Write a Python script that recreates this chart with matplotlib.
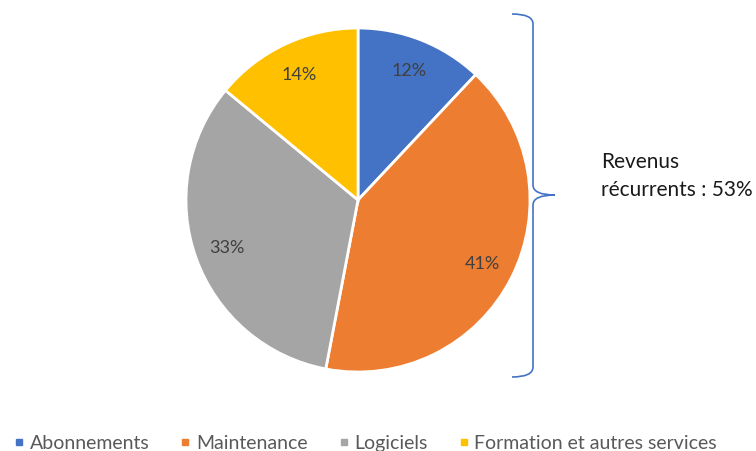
import matplotlib.pyplot as plt
from matplotlib.path import Path
from matplotlib.patches import PathPatch
from matplotlib.lines import Line2D

plt.rcParams['font.family'] = ['Lato', 'DejaVu Sans']

# data
categories = ['Abonnements', 'Maintenance', 'Logiciels', 'Formation et autres services']
shares = [12, 41, 33, 14]
colors = ['#4472C4', '#ED7D31', '#A5A5A5', '#FFC000']
brace_label = 'Revenus\nrécurrents : 53%'

W, H = 756, 452
fig = plt.figure(figsize=(W / 100, H / 100), dpi=100)

# pie centre (358, 200) px, radius 172 px
cx, cy, r = 358, 201, 172
ax = fig.add_axes([(cx - r) / W, (H - cy - r) / H, 2 * r / W, 2 * r / H])
wedges, texts, autotexts = ax.pie(
    shares, colors=colors, startangle=90, counterclock=False,
    autopct='%d%%', pctdistance=0.81,
    wedgeprops=dict(edgecolor='white', linewidth=2),
    textprops=dict(color='#404040', fontsize=13))
ax.set_xlim(-1, 1)
ax.set_ylim(-1, 1)
ax.axis('off')

# brace on the right, in pixel coords (y from top)
def px(x, y):
    return (x / W, 1 - y / H)

verts = [px(512, 15), px(533, 15), px(533, 25),
         px(533, 186),
         px(533, 196), px(555, 196),
         px(533, 196), px(533, 206),
         px(533, 368),
         px(533, 378), px(512, 378)]
codes = [Path.MOVETO, Path.CURVE3, Path.CURVE3,
         Path.LINETO,
         Path.CURVE3, Path.CURVE3,
         Path.CURVE3, Path.CURVE3,
         Path.LINETO,
         Path.CURVE3, Path.CURVE3]
fig.add_artist(PathPatch(Path(verts, codes), transform=fig.transFigure,
                         fill=False, edgecolor='#4472C4', linewidth=1.2))

fig.text(601 / W, 1 - 176 / H, brace_label, fontsize=15, color='#1a1a1a',
         ha='left', va='center', linespacing=1.45)

handles = [Line2D([], [], marker='s', linestyle='', markersize=5,
                  markerfacecolor=c, markeredgecolor=c) for c in colors]
fig.legend(handles, categories, loc='center', bbox_to_anchor=(0.483, 1 - 444 / H),
           ncol=4, frameon=False, fontsize=14, handletextpad=0.25,
           columnspacing=1.55, handlelength=0.6, labelcolor='#595959',
           borderaxespad=0, borderpad=0)

fig.savefig('out.png', dpi=100)
